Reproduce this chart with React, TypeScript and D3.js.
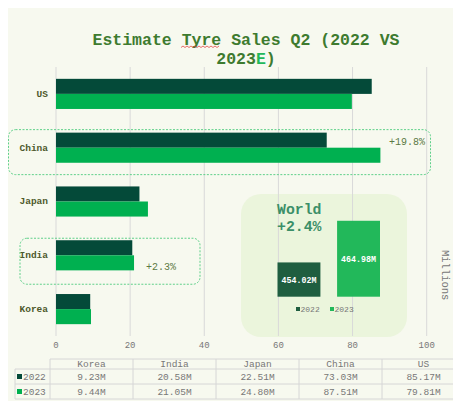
import { scaleBand, scaleLinear } from "d3";

const categories = ["US", "China", "Japan", "India", "Korea"];
const years = ["2022", "2023"];
const sales2022 = [85.17, 73.03, 22.51, 20.58, 9.23];
const sales2023 = [79.81, 87.51, 24.8, 21.05, 9.44];
const tableOrder = ["Korea", "India", "Japan", "China", "US"];
const xTicks = [0, 20, 40, 60, 80, 100];
const worldTotals = [454.02, 464.98];
const callouts = [
  { category: "China", label: "+19.8%" },
  { category: "India", label: "+2.3%" },
];

const W = 453;
const H = 401;
const mono = "'Courier New', 'Liberation Mono', monospace";
const dark = "#044a39";
const green = "#00b050";
const worldDark = "#1f5e40";
const worldGreen = "#22b85a";
const grey = "#777";

export default function App() {
  const x = scaleLinear([0, 100], [56, 426.7]);
  const y = scaleBand(categories, [67, 336]).paddingInner(0.44).paddingOuter(0.22);
  const sub = scaleBand(years, [0, y.bandwidth()]);
  const values = (c: string) => {
    const i = categories.indexOf(c);
    return [sales2022[i], sales2023[i]];
  };

  // world inset: truncated axis, only the gap matters
  const wx = scaleBand(years, [277.5, 380]).paddingInner(0.28);
  const wy = scaleLinear([445, 475], [296.7, 182.7]);

  const col = scaleBand(tableOrder, [50, 465]);
  const rowY = [359, 369, 384, 399];

  const chinaY = y("China")!;
  const indiaY = y("India")!;

  return (
    <svg width={W} height={H} style={{ position: "absolute", left: 0, top: 0 }} fontFamily={mono}>
      <rect width={W} height={H} fill="#fff" />
      <rect x={8} y={8} width={W - 8} height={H - 8} fill="#f7f9ef" />

      <text x={246} y={45} textAnchor="middle" fontSize={16.5} fontWeight="bold" fill="#3e7b2f">
        Estimate Tyre Sales Q2 (2022 VS
      </text>
      <text x={246} y={64} textAnchor="middle" fontSize={16.5} fontWeight="bold" fill="#3e7b2f">
        2023<tspan fill="#22b85a">E</tspan>)
      </text>
      <path
        d={Array.from({ length: 20 }, (_, i) => `${i ? "L" : "M"}${181 + i * 2},${i % 2 ? 46 : 47.5}`).join("")}
        fill="none"
        stroke="#e03030"
        strokeWidth={0.7}
      />

      <rect x={241} y={194} width={166} height={143} rx={20} fill="#ebf5dc" />

      {xTicks.map((t) => (
        <g key={t}>
          <line x1={x(t)} x2={x(t)} y1={67} y2={336} stroke="#d9d9d9" strokeWidth={1} />
          <text x={x(t)} y={348} textAnchor="middle" fontSize={9} fill={grey}>
            {t}
          </text>
        </g>
      ))}

      {categories.map((c) => (
        <g key={c} transform={`translate(0,${y(c)})`}>
          {values(c).map((v, i) => (
            <rect
              key={i}
              x={x(0)}
              y={sub(years[i])}
              width={x(v) - x(0)}
              height={sub.bandwidth()}
              fill={i ? green : dark}
            />
          ))}
          <text x={48} y={y.bandwidth() / 2 + 3} textAnchor="end" fontSize={9.5} fontWeight="bold" fill="#4e5a2c">
            {c}
          </text>
        </g>
      ))}

      <rect x={8.5} y={chinaY - 3} width={422} height={45} rx={7} fill="none" stroke="#5fd08a" strokeDasharray="2,1.5" />
      <text x={425} y={chinaY + 12} textAnchor="end" fontSize={10} fill="#5c7a44">
        {callouts[0].label}
      </text>
      <rect x={20} y={indiaY - 2} width={180} height={46} rx={7} fill="none" stroke="#5fd08a" strokeDasharray="2,1.5" />
      <text x={146} y={indiaY + 30} fontSize={10} fill="#5c7a44">
        {callouts[1].label}
      </text>

      <text x={277} y={214} fontSize={14.8} fontWeight="bold" fill="#3b8f68">
        World
      </text>
      <text x={277} y={231} fontSize={14.8} fontWeight="bold" fill="#3b8f68">
        +2.4%
      </text>
      {worldTotals.map((v, i) => (
        <g key={i}>
          <rect
            x={wx(years[i])}
            y={wy(v)}
            width={wx.bandwidth()}
            height={wy(445) - wy(v)}
            fill={i ? worldGreen : worldDark}
          />
          <text
            x={wx(years[i])! + wx.bandwidth() / 2}
            y={(wy(v) + wy(445)) / 2 + 3}
            textAnchor="middle"
            fontSize={8.3}
            fontWeight="bold"
            fill="#fff"
          >
            {v.toFixed(2)}M
          </text>
        </g>
      ))}
      {years.map((yr, i) => (
        <g key={yr} transform={`translate(296,312) translate(${i * 34},0)`}>
          <rect x={0} y={-5} width={4} height={4} fill={i ? worldGreen : worldDark} />
          <text x={4.5} y={-0.5} fontSize={8} fill={grey}>
            {yr}
          </text>
        </g>
      ))}

      <text transform="translate(442,250) rotate(90)" fontSize={10.5} fill={grey}>
        Millions
      </text>

      <g stroke="#d6d6d6" strokeWidth={1}>
        <line x1={50} x2={W} y1={rowY[0]} y2={rowY[0]} />
        {rowY.slice(1).map((ry) => (
          <line key={ry} x1={15} x2={W} y1={ry} y2={ry} />
        ))}
        <line x1={15} x2={15} y1={rowY[1]} y2={rowY[3]} />
        {tableOrder.map((c) => (
          <line key={c} x1={col(c)} x2={col(c)} y1={rowY[0]} y2={rowY[3]} />
        ))}
      </g>
      {tableOrder.map((c) => {
        const cx = col(c)! + col.bandwidth() / 2;
        const [a, b] = values(c);
        return (
          <g key={c} fontSize={9.5} fill={grey} textAnchor="middle">
            <text x={cx} y={rowY[0] + 8}>{c}</text>
            <text x={cx} y={rowY[1] + 11}>{a.toFixed(2)}M</text>
            <text x={cx} y={rowY[2] + 11}>{b.toFixed(2)}M</text>
          </g>
        );
      })}
      {years.map((yr, i) => (
        <g key={yr} transform={`translate(17,${rowY[i + 1] + 11})`}>
          <rect x={0} y={-6} width={5} height={5} fill={i ? green : dark} />
          <text x={6} y={0} fontSize={9.5} fill={grey}>
            {yr}
          </text>
        </g>
      ))}
    </svg>
  );
}
